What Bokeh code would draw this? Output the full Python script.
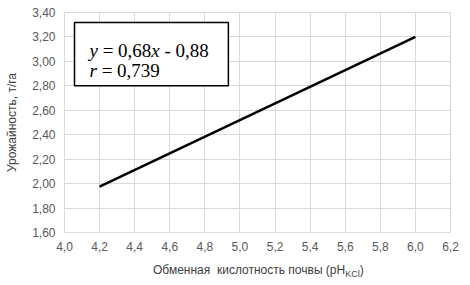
from bokeh.plotting import figure
from bokeh.models import FixedTicker, BoxAnnotation, Div
from bokeh.layouts import column
from bokeh.core.properties import value
from bokeh.embed import file_html
from bokeh.resources import INLINE

# data
x_ticks = [4.0, 4.2, 4.4, 4.6, 4.8, 5.0, 5.2, 5.4, 5.6, 5.8, 6.0, 6.2]
x_tick_labels = ["4,0", "4,2", "4,4", "4,6", "4,8", "5,0", "5,2", "5,4", "5,6", "5,8", "6,0", "6,2"]
y_ticks = [1.6, 1.8, 2.0, 2.2, 2.4, 2.6, 2.8, 3.0, 3.2, 3.4]
y_tick_labels = ["1,60", "1,80", "2,00", "2,20", "2,40", "2,60", "2,80", "3,00", "3,20", "3,40"]
line_x = [4.2, 6.0]
line_y = [1.976, 3.20]
y_title = "Урожайность, т/га"
x_title_main = "Обменная  кислотность почвы (pH"
x_title_sub = "KCl"
x_title_end = ")"
eq_parts = ["y", "= 0,68", "x", "- 0,88"]
r_parts = ["r", "= 0,739"]

GRID = "#d9d9d9"
TICK = "#595959"

p = figure(width=462, height=258, x_range=(4.0, 6.2), y_range=(1.6, 3.4),
           output_backend="svg", toolbar_location=None,
           min_border_left=64, min_border_right=12, min_border_top=12, min_border_bottom=26)
p.background_fill_color = "white"
p.border_fill_color = "white"
p.outline_line_color = GRID

p.xaxis.ticker = FixedTicker(ticks=x_ticks)
p.yaxis.ticker = FixedTicker(ticks=y_ticks)
p.xaxis.major_label_overrides = dict(zip(x_ticks, x_tick_labels))
p.yaxis.major_label_overrides = dict(zip(y_ticks, y_tick_labels))
for ax in (p.xaxis, p.yaxis):
    ax.axis_line_color = None
    ax.major_tick_line_color = None
    ax.minor_tick_line_color = None
    ax.major_tick_in = 0
    ax.major_tick_out = 0
    ax.major_label_text_font = "Liberation Sans"
    ax.major_label_text_font_size = "12px"
    ax.major_label_text_color = TICK
p.xaxis.major_label_standoff = 9
p.yaxis.major_label_standoff = 9
p.yaxis.axis_label = y_title
p.yaxis.axis_label_text_font = "Liberation Sans"
p.yaxis.axis_label_text_font_size = "12px"
p.yaxis.axis_label_text_font_style = "normal"
p.yaxis.axis_label_text_color = "#404040"
p.yaxis.axis_label_standoff = 10

p.xgrid.grid_line_color = GRID
p.ygrid.grid_line_color = GRID
p.xgrid.ticker = FixedTicker(ticks=x_ticks)
p.ygrid.ticker = FixedTicker(ticks=y_ticks)

p.line(line_x, line_y, line_color="black", line_width=2.5)

# equation text box
p.add_layout(BoxAnnotation(left=4.057, right=4.934, top=3.318, bottom=2.80,
                           fill_color="white", fill_alpha=1.0,
                           line_color="black", line_alpha=1.0, line_width=1.5, level="underlay"))
eq_kw = dict(text_font=value("Liberation Serif"), text_font_size="19px",
             text_color="black", text_baseline="alphabetic")
bx, by = 4.0, 3.4
p.text(x=[bx], y=[by], text=[eq_parts[0]], x_offset=25, y_offset=38, text_font_style="italic", **eq_kw)
p.text(x=[bx], y=[by], text=[eq_parts[1]], x_offset=25 + 13.15, y_offset=38, **eq_kw)
p.text(x=[bx], y=[by], text=[eq_parts[2]], x_offset=25 + 61.85, y_offset=38, text_font_style="italic", **eq_kw)
p.text(x=[bx], y=[by], text=[eq_parts[3]], x_offset=25 + 75.0, y_offset=38, **eq_kw)
p.text(x=[bx], y=[by], text=[r_parts[0]], x_offset=25, y_offset=58, text_font_style="italic", **eq_kw)
p.text(x=[bx], y=[by], text=[r_parts[1]], x_offset=25 + 12.15, y_offset=58, **eq_kw)

# x axis title with subscript
xt = Div(text=f"{x_title_main}<sub style='font-size:9px'>{x_title_sub}</sub>{x_title_end}",
         width=462, height=27, margin=0,
         styles={"font-family": "Liberation Sans", "font-size": "12px", "color": "#404040",
                 "padding-left": "153px", "padding-top": "5px", "line-height": "14px",
                 "white-space": "pre"})

layout = column(p, xt, spacing=0)
open("out.html", "w").write(file_html(layout, INLINE))
